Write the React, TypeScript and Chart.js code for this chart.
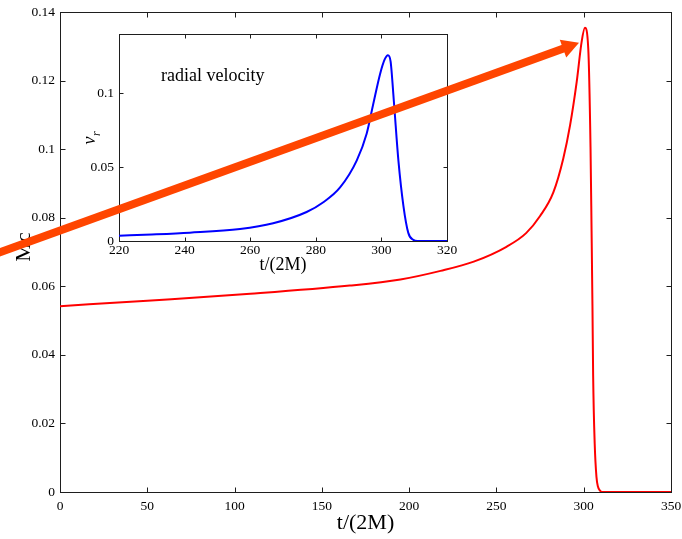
import React, { useEffect, useRef } from 'react';
import { Chart, registerables } from 'chart.js';

Chart.register(...registerables);

// ---- Main chart data: Mc vs t/(2M)
const MC_T = [0, 50, 109, 166, 195, 218, 237, 256, 267, 275, 282.6, 288.3, 292.2, 296.0, 298.8, 300.7, 302.6, 303.9, 304.5, 305.0, 305.4, 306.3, 307.3, 308.2, 309.2, 310.5, 320, 350];
const MC_V = [0.0542, 0.0558, 0.0578, 0.0602, 0.0620, 0.0645, 0.0672, 0.0716, 0.0755, 0.0805, 0.0874, 0.0973, 0.1070, 0.1197, 0.1313, 0.1354, 0.1294, 0.1006, 0.0763, 0.0547, 0.0340, 0.0140, 0.0044, 0.0015, 0.0005, 0, 0, 0];

// ---- Inset data: radial velocity v_r vs t/(2M)
const VR_T = [220, 230, 241.6, 256.9, 267.0, 277.2, 282.3, 287.4, 292.5, 295.5, 297.5, 299.6, 301.0, 302.0, 302.8, 303.8, 305.2, 306.7, 308.2, 309.7, 311, 320];
const VR_V = [0.0036, 0.0044, 0.0056, 0.0081, 0.0120, 0.0196, 0.0262, 0.0362, 0.0545, 0.0725, 0.0925, 0.1130, 0.1228, 0.1257, 0.1215, 0.0945, 0.0540, 0.0240, 0.0055, 0.0008, 0, 0];

// ---- Tick values
const MAIN_X_TICKS = [0, 50, 100, 150, 200, 250, 300, 350];
const MAIN_Y_TICKS = [0, 0.02, 0.04, 0.06, 0.08, 0.1, 0.12, 0.14];
const INSET_X_TICKS = [220, 240, 260, 280, 300, 320];
const INSET_Y_TICKS = [0, 0.05, 0.1];

// ---- Arrow annotation (in main-chart data coordinates): tail, tip
const ARROW_T = [-36, 297.3];
const ARROW_V = [0.0696, 0.131];

const FONT = "'Liberation Serif', 'Times New Roman', serif";
const fmt = (v: any) => String(parseFloat(Number(v).toFixed(4)));

export default function App() {
  const mainRef = useRef<HTMLCanvasElement>(null);
  const insetRef = useRef<HTMLCanvasElement>(null);

  useEffect(() => {
    Chart.defaults.font.family = FONT;
    Chart.defaults.color = '#000';

    const framePlugin = {
      id: 'matlabFrame',
      beforeDatasetsDraw(chart: any, _a: any, opts: any) {
        const { ctx, chartArea: a, scales } = chart;
        const len = opts.tickLen || 5;
        ctx.save();
        if (opts.fill) {
          ctx.fillStyle = '#fff';
          ctx.fillRect(a.left, a.top, a.right - a.left, a.bottom - a.top);
        }
        ctx.strokeStyle = '#1e1e1e';
        ctx.lineWidth = 1;
        const L = Math.round(a.left) + 0.5;
        const R = Math.round(a.right) + 0.5;
        const T = Math.round(a.top) + 0.5;
        const B = Math.round(a.bottom) + 0.5;
        ctx.strokeRect(L, T, R - L, B - T);
        ctx.beginPath();
        for (const t of scales.x.ticks) {
          const px = Math.round(scales.x.getPixelForValue(t.value)) + 0.5;
          ctx.moveTo(px, B); ctx.lineTo(px, B - len);
          ctx.moveTo(px, T); ctx.lineTo(px, T + len);
        }
        for (const t of scales.y.ticks) {
          const py = Math.round(scales.y.getPixelForValue(t.value)) + 0.5;
          ctx.moveTo(L, py); ctx.lineTo(L + len, py);
          ctx.moveTo(R, py); ctx.lineTo(R - len, py);
        }
        ctx.stroke();
        if (opts.yTitle) {
          ctx.fillStyle = '#000';
          ctx.font = `22px ${FONT}`;
          ctx.textAlign = 'center';
          ctx.textBaseline = 'middle';
          ctx.translate(a.left - 36, (a.top + a.bottom) / 2 - 5);
          ctx.rotate(-Math.PI / 2);
          ctx.fillText(opts.yTitle, 0, 0);
        }
        ctx.restore();
      },
    };

    const axisCommon = (ticksArr: number[]) => ({
      type: 'linear' as const,
      grid: { display: false, drawTicks: false },
      border: { display: false },
      afterBuildTicks: (s: any) => { s.ticks = ticksArr.map((value) => ({ value })); },
    });

    const fitX = (h: number) => (s: any) => { s.height = h; s.paddingLeft = 0; s.paddingRight = 0; };
    const fitY = (w: number) => (s: any) => { s.width = w; s.paddingTop = 0; s.paddingBottom = 0; };

    const main = new Chart(mainRef.current as HTMLCanvasElement, {
      type: 'line',
      data: {
        datasets: [{
          data: MC_T.map((t, i) => ({ x: t, y: MC_V[i] })),
          borderColor: '#ff0000',
          borderWidth: 2,
          pointRadius: 0,
          cubicInterpolationMode: 'monotone',
          fill: false,
        }],
      },
      options: {
        animation: false,
        responsive: false,
        layout: { padding: { left: 0, right: 11, top: 12, bottom: 0 } },
        plugins: { legend: { display: false }, tooltip: { enabled: false }, matlabFrame: { tickLen: 5, yTitle: 'Mc' } } as any,
        scales: {
          x: {
            ...axisCommon(MAIN_X_TICKS),
            min: 0, max: 350,
            afterFit: fitX(47),
            ticks: { padding: 6, font: { size: 13.5 }, color: '#000', callback: fmt, maxRotation: 0, autoSkip: false },
            title: { display: true, text: 't/(2M)', font: { size: 22 }, color: '#000', padding: { top: 0, bottom: 3 } },
          },
          y: {
            ...axisCommon(MAIN_Y_TICKS),
            min: 0, max: 0.14,
            afterFit: fitY(60),
            ticks: { padding: 5, font: { size: 13.5 }, color: '#000', callback: fmt, autoSkip: false },
          },
        } as any,
      },
      plugins: [framePlugin],
    });

    const insetText = {
      id: 'insetText',
      afterDatasetsDraw(chart: any) {
        const { ctx, chartArea: a, scales } = chart;
        ctx.save();
        ctx.fillStyle = '#000';
        ctx.textBaseline = 'alphabetic';
        ctx.textAlign = 'left';
        ctx.font = `18px ${FONT}`;
        ctx.fillText('radial velocity', scales.x.getPixelForValue(232.8), scales.y.getPixelForValue(0.1085));
        // y-axis label v_r (rotated)
        const cx = a.left - 24;
        const cy = (a.top + a.bottom) / 2 + 7;
        ctx.translate(cx, cy);
        ctx.rotate(-Math.PI / 2);
        ctx.font = `italic 18px ${FONT}`;
        ctx.fillText('v', 0, 0);
        const w = ctx.measureText('v').width;
        ctx.font = `italic 12px ${FONT}`;
        ctx.fillText('r', w + 0.5, 5);
        ctx.restore();
      },
    };

    const arrowPlugin = {
      id: 'arrow',
      afterDraw(chart: any) {
        const sx = main.scales.x;
        const sy = main.scales.y;
        const x0 = sx.getPixelForValue(ARROW_T[0]);
        const y0 = sy.getPixelForValue(ARROW_V[0]);
        const x1 = sx.getPixelForValue(ARROW_T[1]);
        const y1 = sy.getPixelForValue(ARROW_V[1]);
        const dx = x1 - x0, dy = y1 - y0;
        const d = Math.hypot(dx, dy);
        const ux = dx / d, uy = dy / d;
        const nx = -uy, ny = ux;
        const hl = 17, hw = 9.5;
        const bx = x1 - ux * hl, by = y1 - uy * hl;
        const ctx = chart.ctx;
        ctx.save();
        ctx.strokeStyle = '#ff4500';
        ctx.fillStyle = '#ff4500';
        ctx.lineWidth = 8;
        ctx.lineCap = 'butt';
        ctx.beginPath();
        ctx.moveTo(x0, y0);
        ctx.lineTo(bx + ux * 2, by + uy * 2);
        ctx.stroke();
        ctx.beginPath();
        ctx.moveTo(x1, y1);
        ctx.lineTo(bx + nx * hw, by + ny * hw);
        ctx.lineTo(bx - nx * hw, by - ny * hw);
        ctx.closePath();
        ctx.fill();
        ctx.restore();
      },
    };

    const inset = new Chart(insetRef.current as HTMLCanvasElement, {
      type: 'line',
      data: {
        datasets: [{
          data: VR_T.map((t, i) => ({ x: t, y: VR_V[i] })),
          borderColor: '#0000ff',
          borderWidth: 2,
          pointRadius: 0,
          cubicInterpolationMode: 'monotone',
          fill: false,
        }],
      },
      options: {
        animation: false,
        responsive: false,
        layout: { padding: { left: 79, right: 235, top: 34, bottom: 262 } },
        plugins: { legend: { display: false }, tooltip: { enabled: false }, matlabFrame: { tickLen: 4, fill: true } } as any,
        scales: {
          x: {
            ...axisCommon(INSET_X_TICKS),
            min: 220, max: 320,
            afterFit: fitX(36),
            ticks: { padding: 1, font: { size: 13.5 }, color: '#000', callback: fmt, maxRotation: 0, autoSkip: false },
            title: { display: true, text: 't/(2M)', font: { size: 18 }, color: '#000', padding: { top: 0, bottom: 1 } },
          },
          y: {
            ...axisCommon(INSET_Y_TICKS),
            min: 0, max: 0.14,
            afterFit: fitY(40),
            ticks: { padding: 5, font: { size: 13.5 }, color: '#000', callback: fmt, autoSkip: false },
          },
        } as any,
      },
      plugins: [framePlugin, insetText, arrowPlugin],
    });

    return () => {
      inset.destroy();
      main.destroy();
    };
  }, []);

  return (
    <div style={{ position: 'fixed', left: 0, top: 0, width: 682, height: 539, background: '#fff' }}>
      <canvas ref={mainRef} width={682} height={539} style={{ position: 'absolute', left: 0, top: 0 }} />
      <canvas ref={insetRef} width={682} height={539} style={{ position: 'absolute', left: 0, top: 0 }} />
    </div>
  );
}
